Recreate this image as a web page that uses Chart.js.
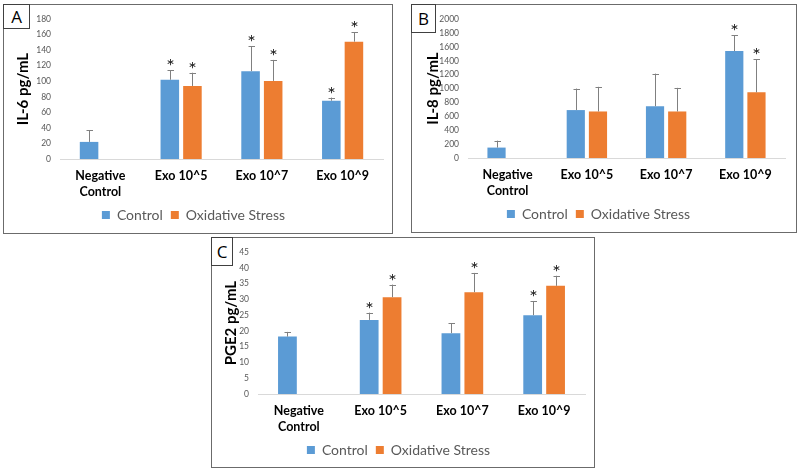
<!DOCTYPE html>
<html>
<head>
<meta charset="utf-8">
<script src="https://cdn.jsdelivr.net/npm/chart.js@4.4.1/dist/chart.umd.min.js"></script>
<style>
  html, body { margin: 0; padding: 0; background: #ffffff; }
  body { width: 800px; height: 471px; position: relative; overflow: hidden; font-family: Lato, "Open Sans", sans-serif; }
  .panel { position: absolute; box-sizing: border-box; border: 1px solid #6b6b6b; background: #fff; }
  .panel canvas { position: absolute; left: 0; top: 0; }
  .tag { position: absolute; left: -1px; top: -1px; box-sizing: border-box; border: 1px solid #404040; background: #fff;
         font-family: "Open Sans", Lato, sans-serif; font-size: 17px; color: #000; display: flex; align-items: center; justify-content: center; }
</style>
</head>
<body>
<div class="panel" style="left:3px;top:4px;width:390px;height:230px;">
  <canvas id="chartA" width="388" height="228"></canvas>
  <div class="tag" style="width:27px;height:25px;">A</div>
</div>
<div class="panel" style="left:411px;top:4px;width:386px;height:229px;">
  <canvas id="chartB" width="384" height="227"></canvas>
  <div class="tag" style="width:25px;height:29px;">B</div>
</div>
<div class="panel" style="left:211px;top:237px;width:384px;height:231px;">
  <canvas id="chartC" width="382" height="229"></canvas>
  <div class="tag" style="width:22px;height:29px;">C</div>
</div>
<script>
// ---------- Data ----------
const categories = [['Negative', 'Control'], 'Exo 10^5', 'Exo 10^7', 'Exo 10^9'];
const seriesNames = ['Control', 'Oxidative Stress'];

// Panel A: IL-6 pg/mL
const il6Control        = [22, 102, 113, 75];
const il6ControlErr     = [15, 12, 32, 4];
const il6ControlSig     = [false, true, true, true];
const il6Oxidative      = [null, 94, 100.5, 151];
const il6OxidativeErr   = [null, 17, 27, 12];
const il6OxidativeSig   = [false, true, true, true];
const il6Ticks          = [0, 20, 40, 60, 80, 100, 120, 140, 160, 180];

// Panel B: IL-8 pg/mL
const il8Control        = [150, 690, 745, 1540];
const il8ControlErr     = [100, 310, 470, 225];
const il8ControlSig     = [false, false, false, true];
const il8Oxidative      = [null, 670, 670, 945];
const il8OxidativeErr   = [null, 355, 340, 480];
const il8OxidativeSig   = [false, false, false, true];
const il8Ticks          = [0, 200, 400, 600, 800, 1000, 1200, 1400, 1600, 1800, 2000];

// Panel C: PGE2 pg/mL
const pge2Control       = [18.2, 23.5, 19.3, 25];
const pge2ControlErr    = [1.5, 2.3, 3.2, 4.5];
const pge2ControlSig    = [false, true, false, true];
const pge2Oxidative     = [null, 30.7, 32.3, 34.3];
const pge2OxidativeErr  = [null, 4, 6.1, 3.2];
const pge2OxidativeSig  = [false, true, true, true];
const pge2Ticks         = [0, 5, 10, 15, 20, 25, 30, 35, 40, 45];

// ---------- Styling ----------
const BLUE = '#5b9bd5';
const ORANGE = '#ed7d31';

const errorBarPlugin = {
  id: 'errorBars',
  afterDatasetsDraw(chart) {
    const ctx = chart.ctx;
    const yScale = chart.scales.y;
    const info = chart.options.plugins.errorBars;
    ctx.save();
    chart.data.datasets.forEach((ds, i) => {
      const meta = chart.getDatasetMeta(i);
      const errs = info.errors[i];
      const sig = info.sig[i];
      meta.data.forEach((bar, j) => {
        const v = ds.data[j];
        if (v === null || v === undefined) return;
        const topY = yScale.getPixelForValue(v + errs[j]);
        const x = Math.round(bar.x) + 0.5;
        ctx.strokeStyle = '#808080';
        ctx.lineWidth = 1;
        ctx.beginPath();
        ctx.moveTo(x, bar.y);
        ctx.lineTo(x, topY);
        ctx.moveTo(x - 3, Math.round(topY) + 0.5);
        ctx.lineTo(x + 3.5, Math.round(topY) + 0.5);
        ctx.stroke();
        if (sig[j]) {
          ctx.fillStyle = '#1a1a1a';
          ctx.font = '20px Lato, sans-serif';
          ctx.textAlign = 'center';
          ctx.textBaseline = 'alphabetic';
          ctx.fillText('*', x, topY + 3);
        }
      });
    });
    ctx.restore();
  }
};

function makeChart(id, p) {
  return new Chart(document.getElementById(id), {
    type: 'bar',
    data: {
      labels: categories,
      datasets: [
        { label: seriesNames[0], data: p.control, backgroundColor: BLUE, borderWidth: 0,
          categoryPercentage: 0.56, barPercentage: 0.82 },
        { label: seriesNames[1], data: p.oxidative, backgroundColor: ORANGE, borderWidth: 0,
          categoryPercentage: 0.56, barPercentage: 0.82 }
      ]
    },
    options: {
      responsive: false,
      animation: false,
      layout: { padding: { left: 0, right: p.padRight, top: p.padTop, bottom: p.padBottom } },
      plugins: {
        legend: {
          position: 'bottom',
          labels: { boxWidth: 8, boxHeight: 8, padding: 8, color: '#595959',
                    font: { family: 'Lato', size: 14 } }
        },
        tooltip: { enabled: false },
        errorBars: { errors: [p.controlErr, p.oxidativeErr], sig: [p.controlSig, p.oxidativeSig] }
      },
      scales: {
        x: {
          grid: { display: false, drawTicks: false },
          border: { display: true, color: '#d9d9d9', width: 1 },
          ticks: { color: '#000', padding: 9, maxRotation: 0, autoSkip: false,
                   font: { family: 'Lato', size: 12.5, weight: 'bold', lineHeight: 1.3 } },
          afterFit(s) { s.height = 41; }
        },
        y: {
          min: p.ticks[0],
          max: p.ticks[p.ticks.length - 1],
          afterBuildTicks(s) { s.ticks = p.ticks.map(v => ({ value: v })); },
          grid: { display: false, drawTicks: false },
          border: { display: false },
          ticks: { color: '#595959', padding: 9, font: { family: 'Lato', size: 8.5 },
                   callback: (v) => String(v) },
          title: { display: true, text: p.title, color: '#000', padding: { top: p.titlePad, bottom: 0 },
                   font: { family: 'Lato', size: 15, weight: 'bold' } },
          afterFit(s) { s.width = p.yWidth; }
        }
      }
    },
    plugins: [errorBarPlugin]
  });
}

makeChart('chartA', {
  control: il6Control, controlErr: il6ControlErr, controlSig: il6ControlSig,
  oxidative: il6Oxidative, oxidativeErr: il6OxidativeErr, oxidativeSig: il6OxidativeSig,
  ticks: il6Ticks, title: 'IL-6 pg/mL', yWidth: 56, titlePad: 10, padRight: 9, padTop: 10, padBottom: 1
});
makeChart('chartB', {
  control: il8Control, controlErr: il8ControlErr, controlSig: il8ControlSig,
  oxidative: il8Oxidative, oxidativeErr: il8OxidativeErr, oxidativeSig: il8OxidativeSig,
  ticks: il8Ticks, title: 'IL-8 pg/mL', yWidth: 56, titlePad: 12, padRight: 11, padTop: 9, padBottom: 1
});
makeChart('chartC', {
  control: pge2Control, controlErr: pge2ControlErr, controlSig: pge2ControlSig,
  oxidative: pge2Oxidative, oxidativeErr: pge2OxidativeErr, oxidativeSig: pge2OxidativeSig,
  ticks: pge2Ticks, title: 'PGE2 pg/mL', yWidth: 46, titlePad: 10, padRight: 9, padTop: 10, padBottom: 0
});
</script>
</body>
</html>
